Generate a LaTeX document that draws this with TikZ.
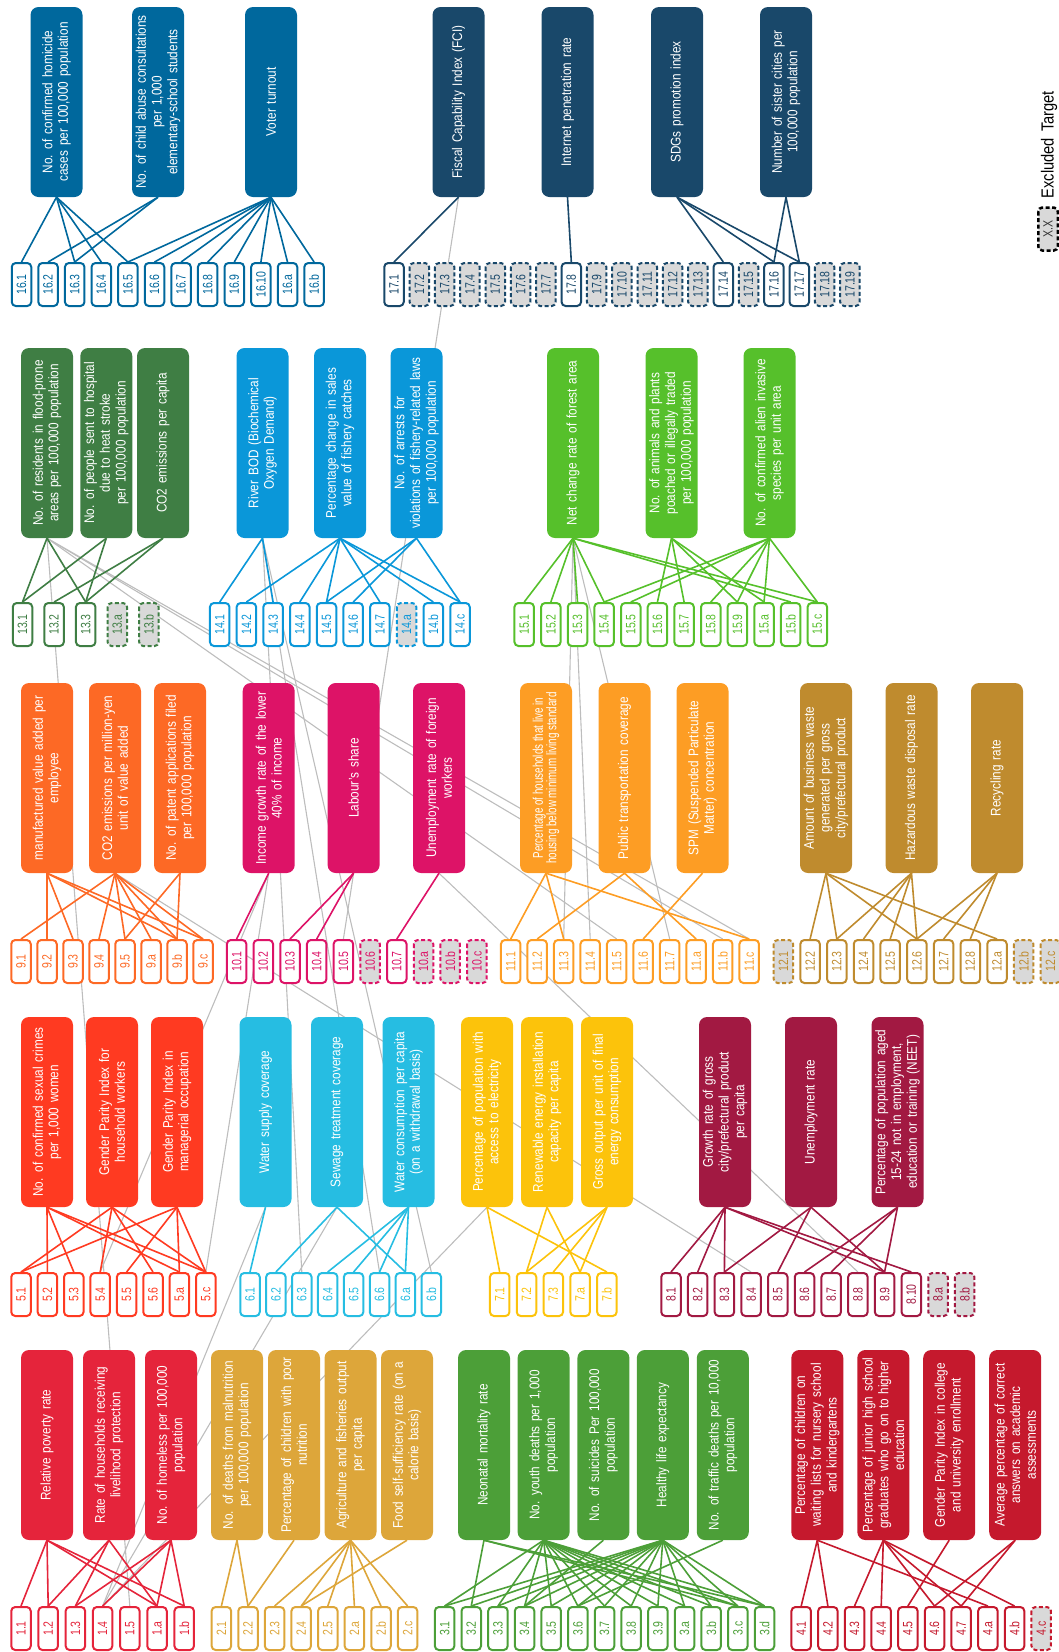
\documentclass[tikz,border=0pt]{standalone}
\usepackage{fontspec}
\setmainfont{Liberation Sans}[FakeStretch=0.84, WordSpace=1.5]
\newfontfamily\narrowfont[FakeStretch=0.7]{Liberation Sans}
\newfontfamily\tagfont[FakeStretch=0.78]{Liberation Sans}
\usetikzlibrary{backgrounds}
\definecolor{goalOne}{HTML}{E5243B}
\definecolor{goalTwo}{HTML}{DDA63A}
\definecolor{goalThree}{HTML}{4C9F38}
\definecolor{goalFour}{HTML}{C5192D}
\definecolor{goalFive}{HTML}{FF3A21}
\definecolor{goalSix}{HTML}{26BDE2}
\definecolor{goalSeven}{HTML}{FCC30B}
\definecolor{goalEight}{HTML}{A21942}
\definecolor{goalNine}{HTML}{FD6925}
\definecolor{goalTen}{HTML}{DD1367}
\definecolor{goalEleven}{HTML}{FD9D24}
\definecolor{goalTwelve}{HTML}{BF8B2E}
\definecolor{goalThirteen}{HTML}{3F7E44}
\definecolor{goalFourteen}{HTML}{0A97D9}
\definecolor{goalFifteen}{HTML}{56C02B}
\definecolor{goalSixteen}{HTML}{00689D}
\definecolor{goalSeventeen}{HTML}{19486A}
\definecolor{excludedGrey}{HTML}{D9D9D9}
\definecolor{crossGrey}{HTML}{BDBDBD}

\begin{document}
\begin{tikzpicture}[x=1pt, y=-1pt, font=\fontsize{14}{15.7}\selectfont, every node/.style={align=center},
  indicator/.style={rotate=90, fill=#1, text=white, rounded corners=8pt, minimum width=190pt, minimum height=52pt, inner sep=1pt},
  target/.style={rotate=90, draw=#1, text=#1, fill=white, line width=2pt, rounded corners=4pt, minimum width=43pt, minimum height=19.5pt, inner sep=0pt, font=\tagfont\fontsize{13.5}{13.5}\selectfont},
  kept/.style={},
  excluded/.style={fill=excludedGrey, dash pattern=on 4pt off 2.5pt},
  link/.style={draw=#1, line width=1.6pt},
  crossLink/.style={draw=crossGrey, line width=1.1pt}]
  \useasboundingbox (0,0) rectangle (1059,1652);

  % row 1 : goals 16 and 17
  \node[indicator=goalSixteen] (i16a) at (56.5,102) {No. of confirmed homicide\\cases per 100,000 population};
  \node[indicator=goalSixteen] (i16b) at (158,102) {No. of child abuse consultations\\per 1,000\\elementary-school students};
  \node[indicator=goalSixteen] (i16c) at (271,102) {Voter turnout};
  \foreach \n [count=\k from 0] in {1,2,3,4,5,6,7,8,9,10,a,b}
    \node[target=goalSixteen] (t16-\n) at (21.5+26.6*\k,284.5) {16.\n};
  \node[indicator=goalSeventeen] (i17a) at (458.5,102) {Fiscal Capability Index (FCI)};
  \node[indicator=goalSeventeen] (i17b) at (567.5,102) {Internet penetration rate};
  \node[indicator=goalSeventeen] (i17c) at (677,102) {SDGs promotion index};
  \node[indicator=goalSeventeen] (i17d) at (786,102) {Number of sister cities per\\100,000 population};
  \foreach \n/\s [count=\k from 0] in {1/kept,2/excluded,3/excluded,4/excluded,5/excluded,6/excluded,7/excluded,8/kept,9/excluded,10/excluded,11/excluded,12/excluded,13/excluded,14/kept,15/excluded,16/kept,17/kept,18/excluded,19/excluded}
    \node[target=goalSeventeen, \s] (t17-\n) at (394+25.33*\k,284.5) {17.\n};

  % legend
  \node[target=black, excluded, text=black!80, line width=2.5pt] (legendBox) at (1048,229) {X.X};
  \node[rotate=90, anchor=west, font=\fontsize{17.5}{17.5}\selectfont] (legendText) at (1049,202) {Excluded Target};

  % row 2 : goals 13, 14 and 15
  \node[indicator=goalThirteen] (i13a) at (47,443) {No. of residents in flood-prone\\areas per 100,000 population};
  \node[indicator=goalThirteen] (i13b) at (106.3,443) {No. of people sent to hospital\\due to heat stroke\\per 100,000 population};
  \node[indicator=goalThirteen] (i13c) at (163,443) {CO2 emissions per capita};
  \foreach \n/\s [count=\k from 0] in {1/kept,2/kept,3/kept,a/excluded,b/excluded}
    \node[target=goalThirteen, \s] (t13-\n) at (22.5+31.6*\k,624.5) {13.\n};
  \node[indicator=goalFourteen] (i14a) at (262.5,443) {River BOD (Biochemical\\Oxygen Demand)};
  \node[indicator=goalFourteen] (i14b) at (340,443) {Percentage change in sales\\value of fishery catches};
  \node[indicator=goalFourteen] (i14c) at (416.5,443) {No. of arrests for\\violations of fishery-related laws\\per 100,000 population};
  \foreach \n/\s [count=\k from 0] in {1/kept,2/kept,3/kept,4/kept,5/kept,6/kept,7/kept,a/excluded,b/kept,c/kept}
    \node[target=goalFourteen, \s] (t14-\n) at (219.7+26.7*\k,624.5) {14.\n};
  \node[indicator=goalFifteen] (i15a) at (573,443) {Net change rate of forest area};
  \node[indicator=goalFifteen] (i15b) at (671.5,443) {No. of animals and plants\\poached or illegally traded\\per 100,000 population};
  \node[indicator=goalFifteen] (i15c) at (769.5,443) {No. of confirmed alien invasive\\species per unit area};
  \foreach \n [count=\k from 0] in {1,2,3,4,5,6,7,8,9,a,b,c}
    \node[target=goalFifteen] (t15-\n) at (524.2+26.65*\k,624.5) {15.\n};

  % row 3 : goals 9, 10, 11 and 12
  \node[indicator=goalNine] (i9a) at (47,778) {manufactured value added per\\employee};
  \node[indicator=goalNine] (i9b) at (115,778) {CO2 emissions per million-yen\\unit of value added};
  \node[indicator=goalNine] (i9c) at (180,778) {No. of patent applications filed\\per 100,000 population};
  \foreach \n [count=\k from 0] in {1,2,3,4,5,a,b,c}
    \node[target=goalNine] (t9-\n) at (21+26*\k,961.5) {9.\n};
  \node[indicator=goalTen] (i10a) at (268.7,778) {Income growth rate of the lower\\40\% of income};
  \node[indicator=goalTen] (i10b) at (353.6,778) {Labour's share};
  \node[indicator=goalTen] (i10c) at (439,778) {Unemployment rate of foreign\\workers};
  \foreach \n/\s [count=\k from 0] in {1/kept,2/kept,3/kept,4/kept,5/kept,6/excluded,7/kept,a/excluded,b/excluded,c/excluded}
    \node[target=goalTen, \s] (t10-\n) at (236.6+26.7*\k,961.5) {10.\n};
  \node[indicator=goalEleven, font=\narrowfont\fontsize{14}{13.5}\selectfont] (i11a) at (546,778) {Percentage of households that live in\\housing below minimum living standard};
  \node[indicator=goalEleven] (i11b) at (624.5,778) {Public transportation coverage};
  \node[indicator=goalEleven] (i11c) at (702.5,778) {SPM (Suspended Particulate\\Matter) concentration};
  \foreach \n [count=\k from 0] in {1,2,3,4,5,6,7,a,b,c}
    \node[target=goalEleven] (t11-\n) at (510.7+26.5*\k,961.5) {11.\n};
  \node[indicator=goalTwelve] (i12a) at (826,778) {Amount of business waste\\generated per gross\\city/prefectural product};
  \node[indicator=goalTwelve] (i12b) at (911.5,778) {Hazardous waste disposal rate};
  \node[indicator=goalTwelve] (i12c) at (997,778) {Recycling rate};
  \foreach \n/\s [count=\k from 0] in {1/excluded,2/kept,3/kept,4/kept,5/kept,6/kept,7/kept,8/kept,a/kept,b/excluded,c/excluded}
    \node[target=goalTwelve, \s] (t12-\n) at (783.4+26.7*\k,961.5) {12.\n};

  % row 4 : goals 5, 6, 7 and 8
  \node[indicator=goalFive] (i5a) at (47,1112) {No. of confirmed sexual crimes\\per 1,000 women};
  \node[indicator=goalFive] (i5b) at (112,1112) {Gender Parity Index for\\household workers};
  \node[indicator=goalFive] (i5c) at (177,1112) {Gender Parity Index in\\managerial occupation};
  \foreach \n [count=\k from 0] in {1,2,3,4,5,6,a,c}
    \node[target=goalFive] (t5-\n) at (21+26.4*\k,1294.5) {5.\n};
  \node[indicator=goalSix] (i6a) at (265.5,1112) {Water supply coverage};
  \node[indicator=goalSix] (i6b) at (337,1112) {Sewage treatment coverage};
  \node[indicator=goalSix] (i6c) at (408.5,1112) {Water consumption per capita\\(on a withdrawal basis)};
  \foreach \n [count=\k from 0] in {1,2,3,4,5,6,a,b}
    \node[target=goalSix] (t6-\n) at (250+25.9*\k,1294.5) {6.\n};
  \node[indicator=goalSeven] (i7a) at (487,1112) {Percentage of population with\\access to electricity};
  \node[indicator=goalSeven] (i7b) at (547,1112) {Renewable energy installation\\capacity per capita};
  \node[indicator=goalSeven] (i7c) at (607,1112) {Gross output per unit of final\\energy consumption};
  \foreach \n [count=\k from 0] in {1,2,3,a,b}
    \node[target=goalSeven] (t7-\n) at (499.7+26.8*\k,1294.5) {7.\n};
  \node[indicator=goalEight] (i8a) at (725,1112) {Growth rate of gross\\city/prefectural product\\per capita};
  \node[indicator=goalEight] (i8b) at (811,1112) {Unemployment rate};
  \node[indicator=goalEight] (i8c) at (897.5,1112) {Percentage of population aged\\15-24 not in employment,\\education or training (NEET)};
  \foreach \n/\s [count=\k from 0] in {1/kept,2/kept,3/kept,4/kept,5/kept,6/kept,7/kept,8/kept,9/kept,10/kept,a/excluded,b/excluded}
    \node[target=goalEight, \s] (t8-\n) at (671+26.7*\k,1294.5) {8.\n};

  % row 5 : goals 1, 2, 3 and 4
  \node[indicator=goalOne] (i1a) at (47,1445) {Relative poverty rate};
  \node[indicator=goalOne] (i1b) at (109,1445) {Rate of households receiving\\livelihood protection};
  \node[indicator=goalOne] (i1c) at (171,1445) {No. of homeless per 100,000\\population};
  \foreach \n [count=\k from 0] in {1,2,3,4,5,a,b}
    \node[target=goalOne] (t1-\n) at (21+27.2*\k,1628.5) {1.\n};
  \node[indicator=goalTwo] (i2a) at (237,1445) {No. of deaths from malnutrition\\per 100,000 population};
  \node[indicator=goalTwo] (i2b) at (294,1445) {Percentage of children with poor\\nutrition};
  \node[indicator=goalTwo] (i2c) at (350.5,1445) {Agriculture and fisheries output\\per capita};
  \node[indicator=goalTwo] (i2d) at (407,1445) {Food self-sufficiency rate (on a\\calorie basis)};
  \foreach \n [count=\k from 0] in {1,2,3,4,5,a,b,c}
    \node[target=goalTwo] (t2-\n) at (221.4+26.6*\k,1628.5) {2.\n};
  \node[indicator=goalThree] (i3a) at (484,1445) {Neonatal mortality rate};
  \node[indicator=goalThree] (i3b) at (543.6,1445) {No. youth deaths per 1,000\\population};
  \node[indicator=goalThree] (i3c) at (603.4,1445) {No. of suicides Per 100,000\\population};
  \node[indicator=goalThree] (i3d) at (662.8,1445) {Healthy life expectancy};
  \node[indicator=goalThree] (i3e) at (722.8,1445) {No. of traffic deaths per 10,000\\population};
  \foreach \n [count=\k from 0] in {1,2,3,4,5,6,7,8,9,a,b,c,d}
    \node[target=goalThree] (t3-\n) at (444.6+26.66*\k,1628.5) {3.\n};
  \node[indicator=goalFour] (i4a) at (817.3,1445) {Percentage of children on\\waiting lists for nursery school\\and kindergartens};
  \node[indicator=goalFour] (i4b) at (883.3,1445) {Percentage of junior high school\\graduates who go on to higher\\education};
  \node[indicator=goalFour] (i4c) at (949.2,1445) {Gender Parity Index in college\\and university enrollment};
  \node[indicator=goalFour] (i4d) at (1015.2,1445) {Average percentage of correct\\answers on academic\\assessments};
  \foreach \n/\s [count=\k from 0] in {1/kept,2/kept,3/kept,4/kept,5/kept,6/kept,7/kept,a/kept,b/kept,c/excluded}
    \node[target=goalFour, \s] (t4-\n) at (801.2+26.67*\k,1628.5) {4.\n};

  \begin{scope}[on background layer]
    % links to targets of other goals
    \draw[crossLink] (i17a.west) -- (t10-5.east);
    \foreach \t in {5,b,c} \draw[crossLink] (i13a.west) -- (t11-\t.east);
    \draw[crossLink] (i13a.west) -- (t1-5.east);
    \foreach \t in {3,6,b} \draw[crossLink] (i14a.west) -- (t6-\t.east);
    \foreach \t in {3,4,7} \draw[crossLink] (i15a.west) -- (t11-\t.east);
    \draw[crossLink] (i9b.west) -- (t8-4.east);
    \foreach \t in {4,c} \draw[crossLink] (i10a.west) -- (t5-\t.east);
    \draw[crossLink] (i10c.west) -- (t8-8.east);
    \foreach \i in {i6a,i6b,i7a} \draw[crossLink] (\i.west) -- (t1-4.east);

    % links inside each goal
    \foreach \t in {1,3,4,5} \draw[link=goalSixteen] (i16a.west) -- (t16-\t.east);
    \foreach \t in {2,3} \draw[link=goalSixteen] (i16b.west) -- (t16-\t.east);
    \foreach \t in {5,6,7,8,9,10,a,b} \draw[link=goalSixteen] (i16c.west) -- (t16-\t.east);
    \draw[link=goalSeventeen] (i17a.west) -- (t17-1.east);
    \draw[link=goalSeventeen] (i17b.west) -- (t17-8.east);
    \foreach \t in {14,16,17} \draw[link=goalSeventeen] (i17c.west) -- (t17-\t.east);
    \foreach \t in {16,17} \draw[link=goalSeventeen] (i17d.west) -- (t17-\t.east);

    \foreach \t in {1,3} \draw[link=goalThirteen] (i13a.west) -- (t13-\t.east);
    \foreach \t in {1,3} \draw[link=goalThirteen] (i13b.west) -- (t13-\t.east);
    \foreach \t in {2,3} \draw[link=goalThirteen] (i13c.west) -- (t13-\t.east);
    \foreach \t in {1,3} \draw[link=goalFourteen] (i14a.west) -- (t14-\t.east);
    \foreach \t in {2,4,5,7,b,c} \draw[link=goalFourteen] (i14b.west) -- (t14-\t.east);
    \foreach \t in {5,6,c} \draw[link=goalFourteen] (i14c.west) -- (t14-\t.east);
    \foreach \t in {1,2,3,4,b,c} \draw[link=goalFifteen] (i15a.west) -- (t15-\t.east);
    \foreach \t in {6,7,9,a} \draw[link=goalFifteen] (i15b.west) -- (t15-\t.east);
    \foreach \t in {4,5,8,9,a,c} \draw[link=goalFifteen] (i15c.west) -- (t15-\t.east);

    \foreach \t in {2,3,b,c} \draw[link=goalNine] (i9a.west) -- (t9-\t.east);
    \foreach \t in {1,4,5,a,b,c} \draw[link=goalNine] (i9b.west) -- (t9-\t.east);
    \foreach \t in {5,b} \draw[link=goalNine] (i9c.west) -- (t9-\t.east);
    \draw[link=goalTen] (i10a.west) -- (t10-1.east);
    \foreach \t in {3,4} \draw[link=goalTen] (i10b.west) -- (t10-\t.east);
    \draw[link=goalTen] (i10c.west) -- (t10-7.east);
    \foreach \t in {1,3,c} \draw[link=goalEleven] (i11a.west) -- (t11-\t.east);
    \foreach \t in {2,a} \draw[link=goalEleven] (i11b.west) -- (t11-\t.east);
    \draw[link=goalEleven] (i11c.west) -- (t11-6.east);
    \foreach \t in {2,3,6,a} \draw[link=goalTwelve] (i12a.west) -- (t12-\t.east);
    \foreach \t in {3,4,5,6} \draw[link=goalTwelve] (i12b.west) -- (t12-\t.east);
    \foreach \t in {6,7,8} \draw[link=goalTwelve] (i12c.west) -- (t12-\t.east);

    \foreach \t in {2,3,a,c} \draw[link=goalFive] (i5a.west) -- (t5-\t.east);
    \foreach \t in {1,4,6,c} \draw[link=goalFive] (i5b.west) -- (t5-\t.east);
    \foreach \t in {1,5,a,c} \draw[link=goalFive] (i5c.west) -- (t5-\t.east);
    \draw[link=goalSix] (i6a.west) -- (t6-1.east);
    \foreach \t in {2,a} \draw[link=goalSix] (i6b.west) -- (t6-\t.east);
    \foreach \t in {4,5,6,a} \draw[link=goalSix] (i6c.west) -- (t6-\t.east);
    \foreach \t in {1,b} \draw[link=goalSeven] (i7a.west) -- (t7-\t.east);
    \foreach \t in {2,a} \draw[link=goalSeven] (i7b.west) -- (t7-\t.east);
    \foreach \t in {2,3,a} \draw[link=goalSeven] (i7c.west) -- (t7-\t.east);
    \foreach \t in {1,2,3,9,10} \draw[link=goalEight] (i8a.west) -- (t8-\t.east);
    \foreach \t in {3,5,9} \draw[link=goalEight] (i8b.west) -- (t8-\t.east);
    \foreach \t in {6,7,9} \draw[link=goalEight] (i8c.west) -- (t8-\t.east);

    \foreach \t in {1,2,a,b} \draw[link=goalOne] (i1a.west) -- (t1-\t.east);
    \foreach \t in {2,3,a} \draw[link=goalOne] (i1b.west) -- (t1-\t.east);
    \foreach \t in {3,4,a,b} \draw[link=goalOne] (i1c.west) -- (t1-\t.east);
    \foreach \t in {1,2} \draw[link=goalTwo] (i2a.west) -- (t2-\t.east);
    \draw[link=goalTwo] (i2b.west) -- (t2-2.east);
    \foreach \t in {3,4,5,a,b,c} \draw[link=goalTwo] (i2c.west) -- (t2-\t.east);
    \draw[link=goalTwo] (i2d.west) -- (t2-4.east);
    \foreach \t in {2,c,d} \draw[link=goalThree] (i3a.west) -- (t3-\t.east);
    \foreach \t in {1,3,4,5,6,7,8,9,a,b,c,d} \draw[link=goalThree] (i3b.west) -- (t3-\t.east);
    \draw[link=goalThree] (i3c.west) -- (t3-4.east);
    \foreach \t in {1,2,3,4,5,6,7,8,9,a,b,c,d} \draw[link=goalThree] (i3d.west) -- (t3-\t.east);
    \draw[link=goalThree] (i3e.west) -- (t3-6.east);
    \foreach \t in {1,2,a} \draw[link=goalFour] (i4a.west) -- (t4-\t.east);
    \foreach \t in {3,4,6,7,b} \draw[link=goalFour] (i4b.west) -- (t4-\t.east);
    \draw[link=goalFour] (i4c.west) -- (t4-5.east);
    \foreach \t in {6,7} \draw[link=goalFour] (i4d.west) -- (t4-\t.east);
  \end{scope}
\end{tikzpicture}
\end{document}
